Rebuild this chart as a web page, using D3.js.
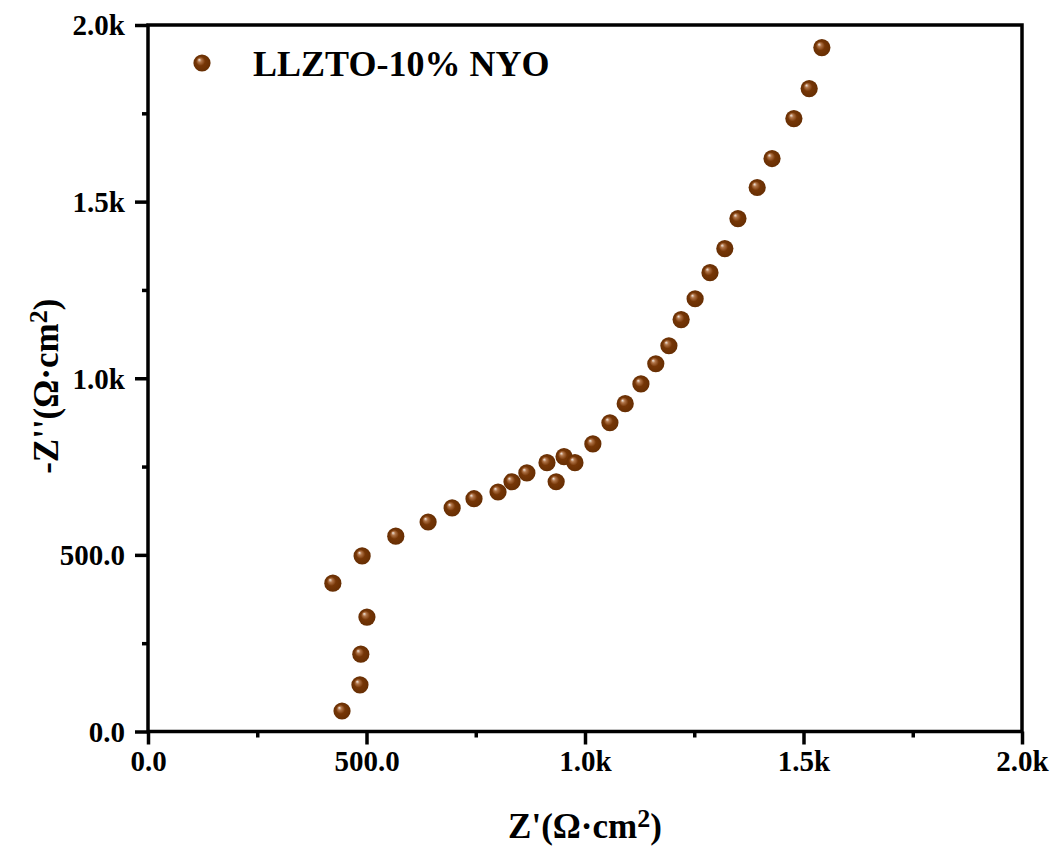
<!DOCTYPE html>
<html>
<head>
<meta charset="utf-8">
<script src="https://cdn.jsdelivr.net/npm/d3@7"></script>
<style>
  html, body { margin: 0; padding: 0; background: #fff; }
  svg { display: block; }
  text { font-family: "Liberation Serif", "Times New Roman", serif; font-weight: bold; fill: #000; }
</style>
</head>
<body>
<svg id="chart" width="1055" height="848"></svg>
<script>
// ---- data ----
const seriesName = "LLZTO-10% NYO";
const zReal = [444, 485, 487, 501, 423, 490, 567, 641, 696, 746, 801, 833, 867, 913, 934, 952, 977,
               1018, 1057, 1092, 1128, 1162, 1192, 1220, 1252, 1286, 1320, 1350, 1394, 1428, 1478, 1513, 1542];
const zImag = [58, 132, 219, 324, 420, 497, 553, 593, 633, 659, 678, 707, 732, 761, 707, 778, 761,
               814, 874, 928, 984, 1041, 1092, 1166, 1225, 1299, 1367, 1452, 1540, 1622, 1735, 1820, 1936];
const majorTicks = [0, 500, 1000, 1500, 2000];
const minorTicks = [250, 750, 1250, 1750];
const tickLabels = ["0.0", "500.0", "1.0k", "1.5k", "2.0k"];
const xTickLabels = ["0.0", "500.0", "1.0k", "1.5k", "2.0k"];

// ---- layout ----
const W = 1055, H = 848;
const m = { left: 148, top: 25, right: 33, bottom: 116.5 };
const svg = d3.select("#chart");
const x = d3.scaleLinear().domain([0, 2000]).range([m.left, W - m.right]);
const y = d3.scaleLinear().domain([0, 2000]).range([H - m.bottom, m.top]);

// gradient for sphere markers
const defs = svg.append("defs");
const grad = defs.append("radialGradient").attr("id", "ball")
  .attr("cx", "50%").attr("cy", "50%").attr("r", "50%")
  .attr("fx", "33%").attr("fy", "30%");
grad.append("stop").attr("offset", "0%").attr("stop-color", "#f4ece6");
grad.append("stop").attr("offset", "22%").attr("stop-color", "#b07448");
grad.append("stop").attr("offset", "52%").attr("stop-color", "#763606");
grad.append("stop").attr("offset", "100%").attr("stop-color", "#662e03");

const axisW = 3.5;

// axes
const xAxis = d3.axisBottom(x).tickValues(majorTicks)
  .tickFormat((d, i) => xTickLabels[i]).tickSize(13).tickPadding(6);
const yAxis = d3.axisLeft(y).tickValues(majorTicks)
  .tickFormat((d, i) => tickLabels[i]).tickSize(13).tickPadding(10);

const gx = svg.append("g").attr("transform", `translate(0,${y(0)})`).call(xAxis);
const gy = svg.append("g").attr("transform", `translate(${x(0)},0)`).call(yAxis);
[gx, gy].forEach(g => {
  g.select(".domain").remove();
  g.selectAll(".tick line").attr("stroke", "#000").attr("stroke-width", axisW);
  g.selectAll(".tick text").style("font-size", "29px").attr("fill", "#000");
});
gy.selectAll(".tick text").attr("dy", "0.34em");

// minor ticks
svg.append("g").attr("transform", `translate(0,${y(0)})`)
  .call(d3.axisBottom(x).tickValues(minorTicks).tickSize(6).tickFormat(""))
  .call(g => { g.select(".domain").remove(); g.selectAll("line").attr("stroke", "#000").attr("stroke-width", axisW); });
svg.append("g").attr("transform", `translate(${x(0)},0)`)
  .call(d3.axisLeft(y).tickValues(minorTicks).tickSize(6).tickFormat(""))
  .call(g => { g.select(".domain").remove(); g.selectAll("line").attr("stroke", "#000").attr("stroke-width", axisW); });

// frame
svg.append("rect")
  .attr("x", x(0)).attr("y", y(2000))
  .attr("width", x(2000) - x(0)).attr("height", y(0) - y(2000))
  .attr("fill", "none").attr("stroke", "#000").attr("stroke-width", axisW);

// points
const pts = zReal.map((v, i) => ({ x: v, y: zImag[i] }));
svg.append("g").selectAll("circle").data(pts).join("circle")
  .attr("cx", d => x(d.x)).attr("cy", d => y(d.y)).attr("r", 8.6)
  .attr("fill", "url(#ball)");

// legend
svg.append("circle").attr("cx", 202).attr("cy", 63).attr("r", 8.6).attr("fill", "url(#ball)");
svg.append("text").attr("x", 253).attr("y", 76).style("font-size", "36px").text(seriesName);

// axis titles
const xt = svg.append("text").attr("x", (x(0) + x(2000)) / 2).attr("y", 838)
  .attr("text-anchor", "middle").style("font-size", "35px");
xt.append("tspan").text("Z'(Ω·cm");
xt.append("tspan").attr("dy", "-0.42em").style("font-size", "26px").text("2");
xt.append("tspan").attr("dy", "0.32em").text(")");

const yt = svg.append("text")
  .attr("transform", `translate(58,${(y(0) + y(2000)) / 2 + 8}) rotate(-90)`)
  .attr("text-anchor", "middle").style("font-size", "35px");
yt.append("tspan").text("-Z''(Ω·cm");
yt.append("tspan").attr("dy", "-0.42em").style("font-size", "26px").text("2");
yt.append("tspan").attr("dy", "0.32em").text(")");
</script>
</body>
</html>
